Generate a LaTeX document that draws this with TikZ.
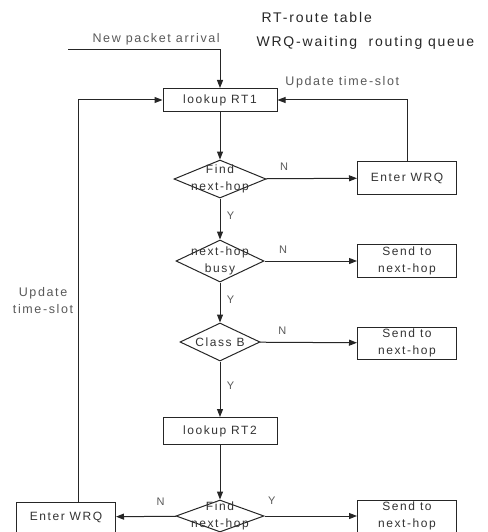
\documentclass[tikz,border=0pt]{standalone}
\usepackage{fontspec}
\newfontfamily\flowfont{Liberation Sans}[LetterSpace=13]
\usetikzlibrary{arrows.meta,
    shapes.geometric}

\tikzset{
  txt/.style={font=\flowfont\fontsize{12}{17}\selectfont, text=black!80},
  box/.style={txt, draw=black!85, line width=1pt, inner sep=0pt, align=center,
    minimum width=99pt, minimum height=33pt},
  dec/.style={diamond, draw=black!85, line width=1pt, inner sep=0pt},
  dtext/.style={txt, align=center, inner sep=0pt},
  arr/.style={-{Triangle[length=8pt,width=6pt]}, line width=1pt, draw=black!85},
  yn/.style={font=\flowfont\fontsize{11}{13}\selectfont, text=black!65},
  note/.style={font=\flowfont\fontsize{12.5}{17}\selectfont, text=black!65, align=center},
  head/.style={font=\flowfont\fontsize{14}{16}\selectfont, text=black!85, anchor=west}
}

\begin{document}
\begin{tikzpicture}[x=1pt,y=-1pt]
  \useasboundingbox (0,0) rectangle (487,532);
  \node[head] (leg1) at (258,17) {RT-route table};
  \node[head] (leg2) at (253,43) {WRQ-waiting\ \ routing queue};

  \node[box, minimum width=114pt, minimum height=23pt] (rt1) at (220,100) {lookup RT1};
  \node[dec, minimum width=92pt, minimum height=38pt, label={[dtext]center:Find\\next-hop}] (find1) at (220,179) {};
  \node[box] (wrq1) at (407,178) {Enter WRQ};
  \node[dec, minimum width=88pt, minimum height=42pt, label={[dtext]center:next-hop\\busy}] (busy) at (220,261) {};
  \node[box] (send1) at (407,261) {Send to\\next-hop};
  \node[dec, minimum width=80pt, minimum height=38pt, label={[dtext]center:Class B}] (classb) at (220,342) {};
  \node[box, minimum height=32pt] (send2) at (407,343) {Send to\\next-hop};
  \node[box, minimum width=114pt, minimum height=27pt] (rt2) at (220,431) {lookup RT2};
  \node[dec, minimum width=88pt, minimum height=32pt, label={[dtext]center:Find\\next-hop}] (find2) at (220,516) {};
  \node[box, minimum height=30pt] (wrq2) at (66,517) {Enter WRQ};
  \node[box, minimum height=32pt] (send3) at (407,516) {Send to\\next-hop};

  \coordinate (np) at (68,50);
  \draw[arr] (np) -| node[note, pos=0.29, above=1pt] {New packet arrival} (rt1);
  \draw[arr] (rt1) -- (find1);
  \draw[arr] (find1) -- node[yn, pos=0.2, above=4pt] {N} (wrq1);
  \draw[arr] (wrq1.north) |- node[note, pos=0.75, above=8pt] {Update time-slot} (rt1.east);
  \draw[arr] (find1) -- node[yn, pos=0.43, right=3pt] {Y} (busy);
  \draw[arr] (busy) -- node[yn, pos=0.2, above=4pt] {N} (send1);
  \draw[arr] (busy) -- node[yn, pos=0.43, right=3pt] {Y} (classb);
  \draw[arr] (classb) -- node[yn, pos=0.23, above=4pt] {N} (send2);
  \draw[arr] (classb) -- node[yn, pos=0.43, right=3pt] {Y} (rt2);
  \draw[arr] (rt2) -- (find2);
  \draw[arr] (find2) -- node[yn, pos=0.26, above=7pt] {N} (wrq2);
  \draw[arr] (find2) -- node[yn, pos=0.08, above=8pt] {Y} (send3);
  \draw[arr] ([xshift=12pt]wrq2.north) |- node[note, pos=0.25, left=1pt] {Update\\time-slot} (rt1.west);
\end{tikzpicture}
\end{document}
